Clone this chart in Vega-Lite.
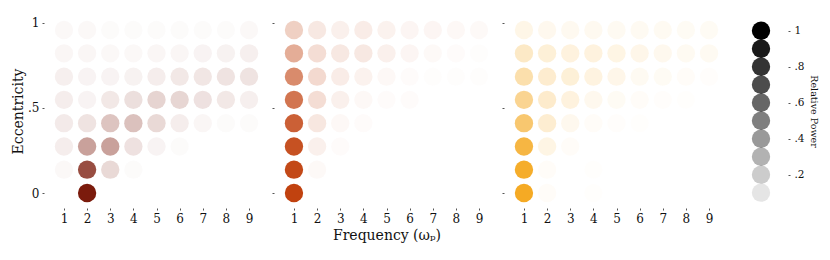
{
  "$schema": "https://vega.github.io/schema/vega-lite/v6.json",
  "padding": {"left": 11, "top": 14, "right": 5, "bottom": 5},
  "background": "white",
  "bounds": "flush",
  "spacing": 5,
  "config": {
    "view": {"stroke": null},
    "font": "DejaVu Serif",
    "axis": {
      "labelFont": "DejaVu Serif", "titleFont": "DejaVu Serif",
      "labelFontSize": 12, "titleFontSize": 14, "titleFontWeight": "normal",
      "labelColor": "#111", "titleColor": "#111",
      "domain": false, "grid": false, "tickSize": 2, "tickColor": "#555", "tickWidth": 1
    }
  },
  "datasets": {
    "power": [
      {"panel": "a", "f": 2, "e": 0, "p": 1.0},
      {"panel": "a", "f": 1, "e": 0.137, "p": 0.03},
      {"panel": "a", "f": 2, "e": 0.137, "p": 0.78},
      {"panel": "a", "f": 3, "e": 0.137, "p": 0.17},
      {"panel": "a", "f": 4, "e": 0.137, "p": 0.02},
      {"panel": "a", "f": 1, "e": 0.273, "p": 0.08},
      {"panel": "a", "f": 2, "e": 0.273, "p": 0.41},
      {"panel": "a", "f": 3, "e": 0.273, "p": 0.41},
      {"panel": "a", "f": 4, "e": 0.273, "p": 0.13},
      {"panel": "a", "f": 5, "e": 0.273, "p": 0.05},
      {"panel": "a", "f": 6, "e": 0.273, "p": 0.02},
      {"panel": "a", "f": 1, "e": 0.41, "p": 0.09},
      {"panel": "a", "f": 2, "e": 0.41, "p": 0.12},
      {"panel": "a", "f": 3, "e": 0.41, "p": 0.26},
      {"panel": "a", "f": 4, "e": 0.41, "p": 0.27},
      {"panel": "a", "f": 5, "e": 0.41, "p": 0.17},
      {"panel": "a", "f": 6, "e": 0.41, "p": 0.08},
      {"panel": "a", "f": 7, "e": 0.41, "p": 0.04},
      {"panel": "a", "f": 8, "e": 0.41, "p": 0.02},
      {"panel": "a", "f": 9, "e": 0.41, "p": 0.02},
      {"panel": "a", "f": 1, "e": 0.547, "p": 0.08},
      {"panel": "a", "f": 2, "e": 0.547, "p": 0.05},
      {"panel": "a", "f": 3, "e": 0.547, "p": 0.1},
      {"panel": "a", "f": 4, "e": 0.547, "p": 0.14},
      {"panel": "a", "f": 5, "e": 0.547, "p": 0.19},
      {"panel": "a", "f": 6, "e": 0.547, "p": 0.18},
      {"panel": "a", "f": 7, "e": 0.547, "p": 0.13},
      {"panel": "a", "f": 8, "e": 0.547, "p": 0.1},
      {"panel": "a", "f": 9, "e": 0.547, "p": 0.07},
      {"panel": "a", "f": 1, "e": 0.683, "p": 0.07},
      {"panel": "a", "f": 2, "e": 0.683, "p": 0.05},
      {"panel": "a", "f": 3, "e": 0.683, "p": 0.05},
      {"panel": "a", "f": 4, "e": 0.683, "p": 0.06},
      {"panel": "a", "f": 5, "e": 0.683, "p": 0.08},
      {"panel": "a", "f": 6, "e": 0.683, "p": 0.1},
      {"panel": "a", "f": 7, "e": 0.683, "p": 0.11},
      {"panel": "a", "f": 8, "e": 0.683, "p": 0.12},
      {"panel": "a", "f": 9, "e": 0.683, "p": 0.12},
      {"panel": "a", "f": 1, "e": 0.82, "p": 0.04},
      {"panel": "a", "f": 2, "e": 0.82, "p": 0.04},
      {"panel": "a", "f": 3, "e": 0.82, "p": 0.03},
      {"panel": "a", "f": 4, "e": 0.82, "p": 0.03},
      {"panel": "a", "f": 5, "e": 0.82, "p": 0.04},
      {"panel": "a", "f": 6, "e": 0.82, "p": 0.04},
      {"panel": "a", "f": 7, "e": 0.82, "p": 0.05},
      {"panel": "a", "f": 8, "e": 0.82, "p": 0.06},
      {"panel": "a", "f": 9, "e": 0.82, "p": 0.07},
      {"panel": "a", "f": 1, "e": 0.957, "p": 0.03},
      {"panel": "a", "f": 2, "e": 0.957, "p": 0.03},
      {"panel": "a", "f": 3, "e": 0.957, "p": 0.02},
      {"panel": "a", "f": 4, "e": 0.957, "p": 0.02},
      {"panel": "a", "f": 5, "e": 0.957, "p": 0.02},
      {"panel": "a", "f": 6, "e": 0.957, "p": 0.02},
      {"panel": "a", "f": 7, "e": 0.957, "p": 0.02},
      {"panel": "a", "f": 8, "e": 0.957, "p": 0.02},
      {"panel": "a", "f": 9, "e": 0.957, "p": 0.03},

      {"panel": "b", "f": 1, "e": 0, "p": 1.0},
      {"panel": "b", "f": 1, "e": 0.137, "p": 0.96},
      {"panel": "b", "f": 2, "e": 0.137, "p": 0.03},
      {"panel": "b", "f": 1, "e": 0.273, "p": 0.92},
      {"panel": "b", "f": 2, "e": 0.273, "p": 0.08},
      {"panel": "b", "f": 3, "e": 0.273, "p": 0.02},
      {"panel": "b", "f": 1, "e": 0.41, "p": 0.84},
      {"panel": "b", "f": 2, "e": 0.41, "p": 0.13},
      {"panel": "b", "f": 3, "e": 0.41, "p": 0.04},
      {"panel": "b", "f": 4, "e": 0.41, "p": 0.02},
      {"panel": "b", "f": 1, "e": 0.547, "p": 0.73},
      {"panel": "b", "f": 2, "e": 0.547, "p": 0.18},
      {"panel": "b", "f": 3, "e": 0.547, "p": 0.08},
      {"panel": "b", "f": 4, "e": 0.547, "p": 0.04},
      {"panel": "b", "f": 5, "e": 0.547, "p": 0.02},
      {"panel": "b", "f": 6, "e": 0.547, "p": 0.02},
      {"panel": "b", "f": 1, "e": 0.683, "p": 0.61},
      {"panel": "b", "f": 2, "e": 0.683, "p": 0.2},
      {"panel": "b", "f": 3, "e": 0.683, "p": 0.1},
      {"panel": "b", "f": 4, "e": 0.683, "p": 0.07},
      {"panel": "b", "f": 5, "e": 0.683, "p": 0.04},
      {"panel": "b", "f": 6, "e": 0.683, "p": 0.02},
      {"panel": "b", "f": 7, "e": 0.683, "p": 0.01},
      {"panel": "b", "f": 8, "e": 0.683, "p": 0.01},
      {"panel": "b", "f": 9, "e": 0.683, "p": 0.01},
      {"panel": "b", "f": 1, "e": 0.82, "p": 0.43},
      {"panel": "b", "f": 2, "e": 0.82, "p": 0.18},
      {"panel": "b", "f": 3, "e": 0.82, "p": 0.12},
      {"panel": "b", "f": 4, "e": 0.82, "p": 0.12},
      {"panel": "b", "f": 5, "e": 0.82, "p": 0.08},
      {"panel": "b", "f": 6, "e": 0.82, "p": 0.05},
      {"panel": "b", "f": 7, "e": 0.82, "p": 0.03},
      {"panel": "b", "f": 8, "e": 0.82, "p": 0.02},
      {"panel": "b", "f": 9, "e": 0.82, "p": 0.01},
      {"panel": "b", "f": 1, "e": 0.957, "p": 0.25},
      {"panel": "b", "f": 2, "e": 0.957, "p": 0.12},
      {"panel": "b", "f": 3, "e": 0.957, "p": 0.08},
      {"panel": "b", "f": 4, "e": 0.957, "p": 0.1},
      {"panel": "b", "f": 5, "e": 0.957, "p": 0.07},
      {"panel": "b", "f": 6, "e": 0.957, "p": 0.05},
      {"panel": "b", "f": 7, "e": 0.957, "p": 0.05},
      {"panel": "b", "f": 8, "e": 0.957, "p": 0.04},
      {"panel": "b", "f": 9, "e": 0.957, "p": 0.03},

      {"panel": "c", "f": 1, "e": 0, "p": 1.0},
      {"panel": "c", "f": 2, "e": 0, "p": 0.03},
      {"panel": "c", "f": 4, "e": 0, "p": 0.01},
      {"panel": "c", "f": 1, "e": 0.137, "p": 0.97},
      {"panel": "c", "f": 2, "e": 0.137, "p": 0.03},
      {"panel": "c", "f": 4, "e": 0.137, "p": 0.01},
      {"panel": "c", "f": 1, "e": 0.273, "p": 0.86},
      {"panel": "c", "f": 2, "e": 0.273, "p": 0.12},
      {"panel": "c", "f": 3, "e": 0.273, "p": 0.03},
      {"panel": "c", "f": 1, "e": 0.41, "p": 0.66},
      {"panel": "c", "f": 2, "e": 0.41, "p": 0.21},
      {"panel": "c", "f": 3, "e": 0.41, "p": 0.08},
      {"panel": "c", "f": 4, "e": 0.41, "p": 0.03},
      {"panel": "c", "f": 5, "e": 0.41, "p": 0.02},
      {"panel": "c", "f": 6, "e": 0.41, "p": 0.01},
      {"panel": "c", "f": 1, "e": 0.547, "p": 0.5},
      {"panel": "c", "f": 2, "e": 0.547, "p": 0.23},
      {"panel": "c", "f": 3, "e": 0.547, "p": 0.15},
      {"panel": "c", "f": 4, "e": 0.547, "p": 0.08},
      {"panel": "c", "f": 5, "e": 0.547, "p": 0.05},
      {"panel": "c", "f": 6, "e": 0.547, "p": 0.03},
      {"panel": "c", "f": 7, "e": 0.547, "p": 0.02},
      {"panel": "c", "f": 8, "e": 0.547, "p": 0.01},
      {"panel": "c", "f": 1, "e": 0.683, "p": 0.38},
      {"panel": "c", "f": 2, "e": 0.683, "p": 0.22},
      {"panel": "c", "f": 3, "e": 0.683, "p": 0.18},
      {"panel": "c", "f": 4, "e": 0.683, "p": 0.14},
      {"panel": "c", "f": 5, "e": 0.683, "p": 0.1},
      {"panel": "c", "f": 6, "e": 0.683, "p": 0.06},
      {"panel": "c", "f": 7, "e": 0.683, "p": 0.05},
      {"panel": "c", "f": 8, "e": 0.683, "p": 0.03},
      {"panel": "c", "f": 9, "e": 0.683, "p": 0.02},
      {"panel": "c", "f": 1, "e": 0.82, "p": 0.26},
      {"panel": "c", "f": 2, "e": 0.82, "p": 0.18},
      {"panel": "c", "f": 3, "e": 0.82, "p": 0.15},
      {"panel": "c", "f": 4, "e": 0.82, "p": 0.15},
      {"panel": "c", "f": 5, "e": 0.82, "p": 0.12},
      {"panel": "c", "f": 6, "e": 0.82, "p": 0.1},
      {"panel": "c", "f": 7, "e": 0.82, "p": 0.08},
      {"panel": "c", "f": 8, "e": 0.82, "p": 0.06},
      {"panel": "c", "f": 9, "e": 0.82, "p": 0.06},
      {"panel": "c", "f": 1, "e": 0.957, "p": 0.11},
      {"panel": "c", "f": 2, "e": 0.957, "p": 0.08},
      {"panel": "c", "f": 3, "e": 0.957, "p": 0.07},
      {"panel": "c", "f": 4, "e": 0.957, "p": 0.07},
      {"panel": "c", "f": 5, "e": 0.957, "p": 0.06},
      {"panel": "c", "f": 6, "e": 0.957, "p": 0.06},
      {"panel": "c", "f": 7, "e": 0.957, "p": 0.06},
      {"panel": "c", "f": 8, "e": 0.957, "p": 0.05},
      {"panel": "c", "f": 9, "e": 0.957, "p": 0.05}
    ],
    "legend": [
      {"v": 0.1}, {"v": 0.2}, {"v": 0.3}, {"v": 0.4}, {"v": 0.5},
      {"v": 0.6}, {"v": 0.7}, {"v": 0.8}, {"v": 0.9}, {"v": 1.0}
    ]
  },
  "hconcat": [
    {
      "width": 225, "height": 194,
      "data": {"name": "power"},
      "transform": [{"filter": "datum.panel == 'a'"}],
      "mark": {"type": "circle", "size": 336, "color": "#7b1b0c"},
      "encoding": {
        "x": {"field": "f", "type": "quantitative",
              "scale": {"domain": [0.137, 9.863], "nice": false, "zero": false},
              "axis": {"values": [1,2,3,4,5,6,7,8,9], "format": "d", "title": null, "labelPadding": 3}},
        "y": {"field": "e", "type": "quantitative",
              "scale": {"domain": [-0.088, 1.051], "nice": false, "zero": false},
              "axis": {"values": [0, 0.5, 1], "labelExpr": "datum.value == 0 ? '0' : datum.value == 1 ? '1' : '.5'",
                       "title": "Eccentricity", "labelPadding": 3, "titlePadding": 2}},
        "opacity": {"field": "p", "type": "quantitative", "scale": {"domain": [0, 1], "range": [0, 1]}, "legend": null}
      }
    },
    {
      "width": 225, "height": 194,
      "data": {"name": "power"},
      "transform": [{"filter": "datum.panel == 'b'"}],
      "mark": {"type": "circle", "size": 336, "color": "#c1420f"},
      "encoding": {
        "x": {"field": "f", "type": "quantitative",
              "scale": {"domain": [0.137, 9.863], "nice": false, "zero": false},
              "axis": {"values": [1,2,3,4,5,6,7,8,9], "format": "d", "title": "Frequency (ω\u209a)", "labelPadding": 3, "titlePadding": 4}},
        "y": {"field": "e", "type": "quantitative",
              "scale": {"domain": [-0.088, 1.051], "nice": false, "zero": false},
              "axis": {"values": [0, 0.5, 1], "labels": false, "title": null}},
        "opacity": {"field": "p", "type": "quantitative", "scale": {"domain": [0, 1], "range": [0, 1]}, "legend": null}
      }
    },
    {
      "width": 225, "height": 194,
      "data": {"name": "power"},
      "transform": [{"filter": "datum.panel == 'c'"}],
      "mark": {"type": "circle", "size": 336, "color": "#f5aa24"},
      "encoding": {
        "x": {"field": "f", "type": "quantitative",
              "scale": {"domain": [0.137, 9.863], "nice": false, "zero": false},
              "axis": {"values": [1,2,3,4,5,6,7,8,9], "format": "d", "title": null, "labelPadding": 3}},
        "y": {"field": "e", "type": "quantitative",
              "scale": {"domain": [-0.088, 1.051], "nice": false, "zero": false},
              "axis": {"values": [0, 0.5, 1], "labels": false, "title": null}},
        "opacity": {"field": "p", "type": "quantitative", "scale": {"domain": [0, 1], "range": [0, 1]}, "legend": null}
      }
    },
    {
      "width": 54, "height": 194,
      "data": {"name": "legend"},
      "mark": {"type": "circle", "size": 336, "color": "#000"},
      "encoding": {
        "x": {"datum": 0, "type": "quantitative", "scale": {"domain": [-1, 1]}, "axis": null},
        "y": {"field": "v", "type": "quantitative",
              "scale": {"domain": [0.015, 1.093], "nice": false, "zero": false},
              "axis": {"orient": "right", "values": [0.2, 0.4, 0.6, 0.8, 1],
                       "labelExpr": "datum.value >= 0.99 ? '1' : '.' + round(datum.value * 10)",
                       "labelFontSize": 10.5, "labelPadding": 4,
                       "title": "Relative Power", "titleFontSize": 9.5, "titlePadding": 4}},
        "opacity": {"field": "v", "type": "quantitative", "scale": {"domain": [0, 1], "range": [0, 1]}, "legend": null}
      }
    }
  ]
}
